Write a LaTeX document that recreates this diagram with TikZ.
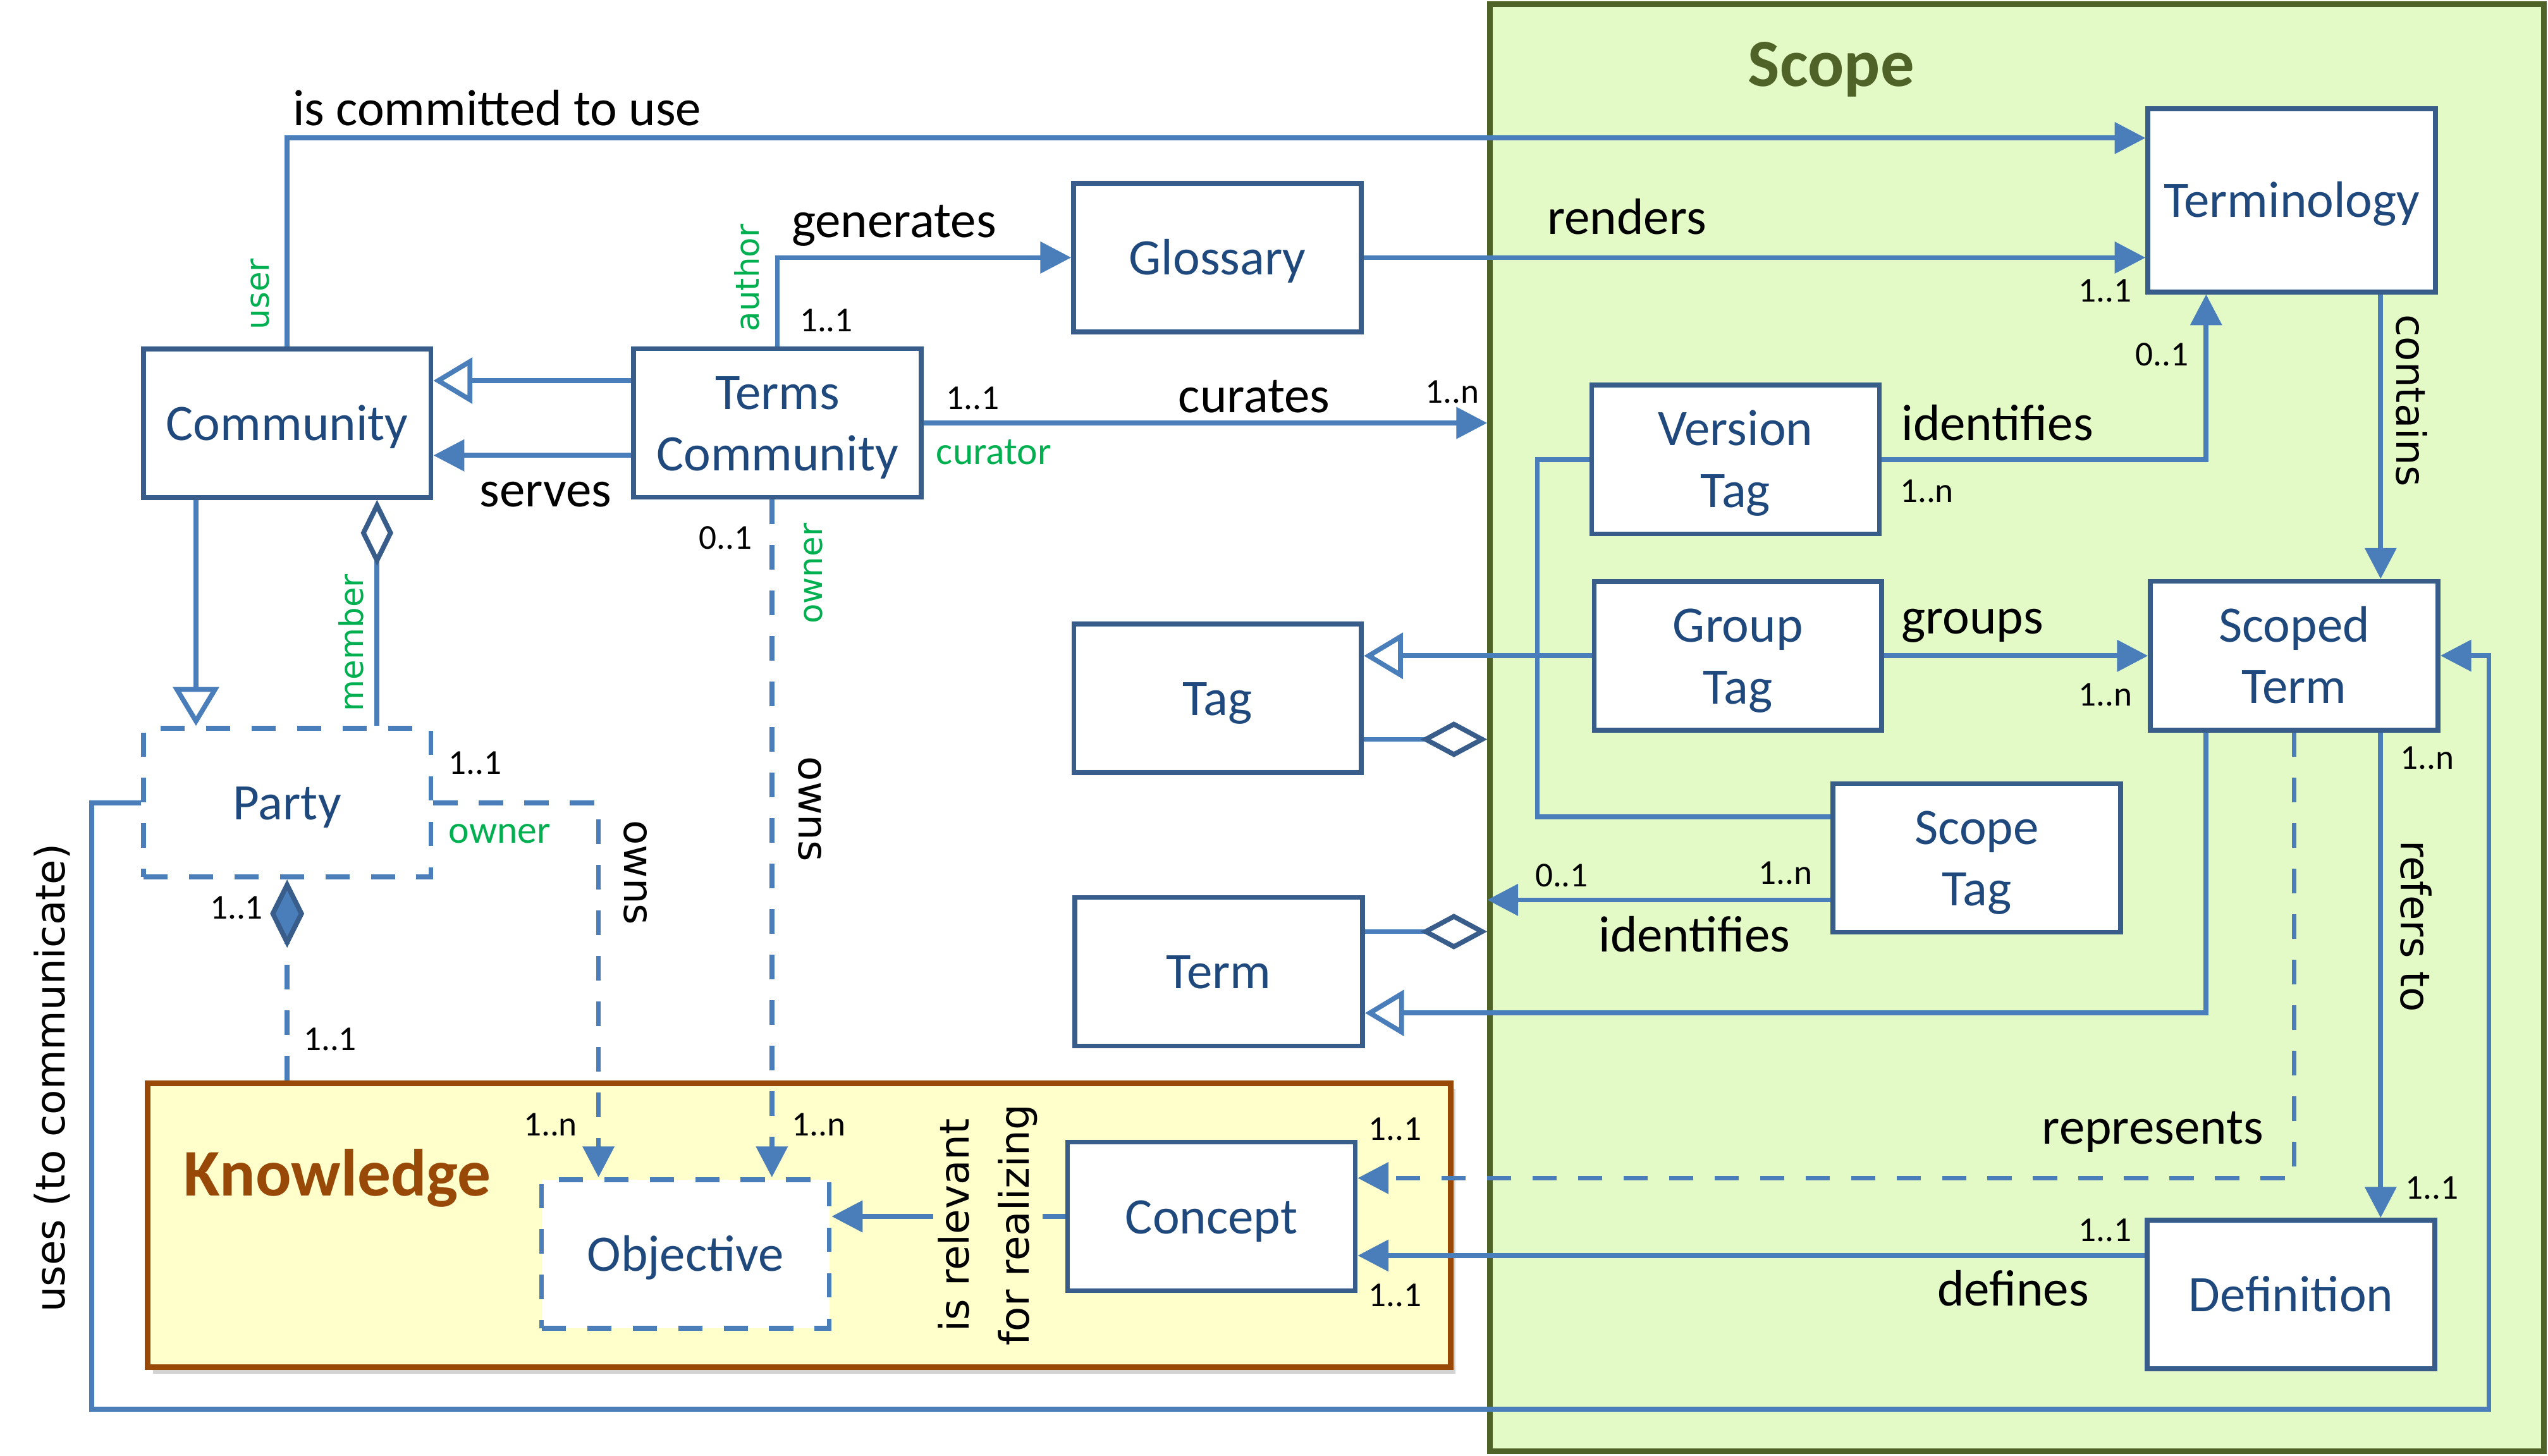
\documentclass[tikz,border=0pt]{standalone}
\usepackage{fontspec}
\setmainfont{Carlito}
\newfontfamily\vfont{DejaVu Sans}
\usetikzlibrary{arrows.meta,calc,shadows}
\definecolor{connc}{HTML}{4A7EBB}
\definecolor{boxborder}{HTML}{385D8A}
\definecolor{boxtext}{HTML}{1F497D}
\definecolor{greenlbl}{HTML}{00B050}
\definecolor{scopefill}{HTML}{E4FAC6}
\definecolor{scopeborder}{HTML}{4F6228}
\definecolor{knowfill}{HTML}{FFFFCC}
\definecolor{knowborder}{HTML}{984807}
\newcommand{\fmain}{\fontsize{31.5}{38}\selectfont}
\newcommand{\fmult}{\fontsize{21.5}{26}\selectfont}
\newcommand{\fgreen}{\fontsize{24}{29}\selectfont}
\newcommand{\frot}{\vfont\fontsize{25}{37}\selectfont}
\newcommand{\frotg}{\vfont\fontsize{20}{24}\selectfont}
\newcommand{\boxstrut}{\rule[-7pt]{0pt}{35pt}}
\tikzset{
 box/.style={draw=boxborder, line width=3pt, fill=white, text=boxtext, font=\fmain, align=center, minimum width=177pt, minimum height=91.5pt, inner sep=0pt, execute at end node=\boxstrut},
 dbox/.style={box, draw=connc, dash pattern=on 15pt off 13pt},
 conn/.style={draw=connc, line width=3pt},
 dconn/.style={conn, dash pattern=on 15pt off 13pt},
 fa/.style={-{Triangle[length=19pt,width=19pt]}},
 gen/.style={-{Triangle[length=24pt,width=28pt,fill=white]}},
 agg/.style={-{Diamond[length=41pt,width=22pt,color=boxborder,fill=white]}},
 comp/.style={-{Diamond[length=42pt,width=21pt,color=boxborder,fill=connc]}},
 lbl/.style={anchor=base west, font=\fmain, inner sep=0pt},
 mult/.style={anchor=base west, font=\fmult, inner sep=0pt},
 glbl/.style={anchor=base west, font=\fgreen, text=greenlbl, inner sep=0pt},
 rlbl/.style={font=\frot, inner sep=0pt, align=center},
 grlbl/.style={font=\frotg, text=greenlbl, inner sep=0pt, rotate=90},
}
\begin{document}
\begin{tikzpicture}[x=1pt,y=-1pt]
\useasboundingbox (0,0) rectangle (1568,896);
% containers
\node[draw=scopeborder, fill=scopefill, line width=3.5pt, minimum width=648.5pt, minimum height=890.6pt, inner sep=0pt] (scope) at (1241.2,447.7) {};
\node[anchor=base west, font=\fontsize{41.5}{50}\selectfont\bfseries, text=scopeborder, inner sep=0pt] (scopettl) at (1075.5,53) {Scope};
\node[draw=knowborder, fill=knowfill, line width=3.5pt, minimum width=801.6pt, minimum height=174.8pt, inner sep=0pt, drop shadow={shadow xshift=3pt, shadow yshift=-4pt, opacity=0.35}] (know) at (491.8,753.9) {};
\node[anchor=base west, font=\fontsize{41}{50}\selectfont\bfseries, text=knowborder, inner sep=0pt] (knowttl) at (113,735.8) {Knowledge};
% boxes
\node[box] (comm) at (176.7,260.4) {\boxstrut Community};
\node[box] (tc) at (478.4,260.3) {\boxstrut Terms\\Community};
\node[box] (gloss) at (749.2,158.5) {\boxstrut Glossary};
\node[box, minimum height=112.7pt] (termy) at (1410.3,123.3) {\boxstrut Terminology};
\node[box] (vt) at (1068,282.8) {\boxstrut Version\\Tag};
\node[box] (gt) at (1069.5,403.6) {\boxstrut Group\\Tag};
\node[box] (st) at (1411.8,403.5) {\boxstrut Scoped\\Term};
\node[box] (tag) at (749.3,429.8) {\boxstrut Tag};
\node[box] (sct) at (1216.5,528) {\boxstrut Scope\\Tag};
\node[box] (term) at (750,598) {\boxstrut Term};
\node[dbox] (party) at (176.7,494) {\boxstrut Party};
\node[dbox] (obj) at (421.8,771.8) {\boxstrut Objective};
\node[box] (concept) at (745.5,748.6) {\boxstrut Concept};
\node[box] (def) at (1409.8,796.7) {\boxstrut Definition};
% connectors
\draw[conn,fa] (comm.north) |- ($(termy.north west)+(0,19.5)$);
\draw[conn,fa] (tc.north) |- (gloss.west);
\draw[conn,fa] (gloss.east) -- (gloss.east -| termy.west);
\coordinate (gA) at ($(tc.north west)+(0,21.2)$);
\draw[conn,gen] (gA) -- (gA -| comm.east);
\coordinate (sA) at ($(tc.north west)+(0,67.2)$);
\draw[conn,fa] (sA) -- (sA -| comm.east);
\draw[conn,fa] (tc.east) -- (tc.east -| scope.west);
\coordinate (vI) at ($(termy.south)+(-52.7,0)$);
\draw[conn,fa] (vt.east) -| (vI);
\coordinate (cT) at ($(termy.south)+(54.7,0)$);
\draw[conn,fa] (cT) -- (cT |- st.north);
\draw[conn,fa] (gt.east) -- (gt.east -| st.west);
\draw[conn,gen] (gt.west) -- (gt.west -| tag.east);
\coordinate (tA) at ($(tag.east)+(0,25.2)$);
\draw[conn,agg] (tA) -- (tA -| scope.west);
\coordinate (tmA) at ($(term.east)+(0,-24.7)$);
\draw[conn,agg] (tmA) -- (tmA -| scope.west);
\coordinate (vL) at ($(vt.west)+(-32,0)$);
\coordinate (scL) at ($(sct.west)+(0,-25.4)$);
\draw[conn] (vt.west) -- (vL) |- (scL);
\coordinate (scI) at ($(sct.west)+(0,25.8)$);
\draw[conn,fa] (scI) -- (scI -| scope.west);
\coordinate (stG) at ($(st.south)+(-54.2,0)$);
\draw[conn,gen] (stG) |- ($(term.east)+(0,25.4)$);
\draw[dconn,fa] (st.south) |- ($(concept.east)+(0,-23.6)$);
\coordinate (stR) at ($(st.south)+(53.2,0)$);
\draw[conn,fa] (stR) -- (stR |- def.north);
\coordinate (dF) at ($(def.west)+(0,-24)$);
\draw[conn,fa] (dF) -- (dF -| concept.east);
\coordinate (uBL) at (56.3,867.3);
\coordinate (uBR) at (1531.6,867.3);
\draw[conn,fa] (party.west) -| (uBL) -- (uBR) |- (st.east);
\coordinate (cG) at ($(comm.south)+(-56.1,0)$);
\draw[conn,gen] (cG) -- (cG |- party.north);
\coordinate (pM) at ($(party.north)+(55.3,0)$);
\draw[conn,-{Diamond[length=40.6pt,width=20pt,color=boxborder,fill=white]}] (pM) -- (pM |- comm.south);
\draw[dconn,comp] (party.south |- know.north) -- (party.south);
\coordinate (oL) at ($(obj.north)+(-53.5,0)$);
\draw[dconn,fa] (party.east) -| (oL);
\coordinate (oR) at ($(obj.north)+(53.2,0)$);
\draw[dconn,fa] (oR |- tc.south) -- (oR);
\draw[conn,fa] (concept.west) -- (concept.west -| obj.east);
% labels
\node[lbl] (l1) at (180,77.4) {is committed to use};
\node[grlbl] (l2) at (160,181) {user};
\node[grlbl] (l3) at (459.5,171) {author};
\node[mult] (m1) at (492,204) {1..1};
\node[lbl] (l4) at (487,146) {generates};
\node[lbl] (l5) at (952,144) {renders};
\node[mult] (m2) at (1279,185.6) {1..1};
\node[lbl] (l6) at (725,254) {curates};
\node[mult] (m3) at (582,252) {1..1};
\node[mult] (m4) at (877,248) {1..n};
\node[glbl] (l7) at (576,285.7) {curator};
\node[lbl] (l8) at (295,311.7) {serves};
\node[mult] (m5) at (1314,225) {0..1};
\node[lbl] (l9) at (1170,271) {identifies};
\node[mult] (m6) at (1169,309) {1..n};
\node[rlbl, rotate=-90] (l10) at (1484,246.5) {contains};
\node[lbl] (l11) at (1170,390) {groups};
\node[mult] (m7) at (1279,434.6) {1..n};
\node[mult] (m8) at (1477,473.4) {1..n};
\node[rlbl, rotate=-90] (l12) at (1487,570) {refers to};
\node[mult] (m9) at (1082,544) {1..n};
\node[mult] (m10) at (944.5,545.6) {0..1};
\node[lbl] (l13) at (983.6,585.7) {identifies};
\node[lbl] (l14) at (1256.5,704) {represents};
\node[mult] (m11) at (1480,737.7) {1..1};
\node[mult] (m12) at (1279,763.8) {1..1};
\node[lbl] (l15) at (1192,803.6) {defines};
\node[mult] (m13) at (842,701.7) {1..1};
\node[mult] (m14) at (842,804) {1..1};
\node[rlbl, rotate=90, fill=knowfill, inner sep=3pt] (l16) at (608,754) {is relevant\\for realizing};
\node[mult] (m15) at (322,699) {1..n};
\node[mult] (m16) at (487,699) {1..n};
\node[mult] (m17) at (186.6,646.3) {1..1};
\node[mult] (m18) at (129,565.4) {1..1};
\node[glbl] (l17) at (276,519) {owner};
\node[mult] (m19) at (276,476.4) {1..1};
\node[rlbl, rotate=-90] (l18) at (391,537) {owns};
\node[rlbl, rotate=-90] (l19) at (498.5,498) {owns};
\node[grlbl] (l20) at (500.4,353) {owner};
\node[mult] (m20) at (430,337.9) {0..1};
\node[grlbl] (l21) at (216,395.5) {member};
\node[rlbl, rotate=90] (l22) at (32,663.5) {uses (to communicate)};
\end{tikzpicture}
\end{document}
